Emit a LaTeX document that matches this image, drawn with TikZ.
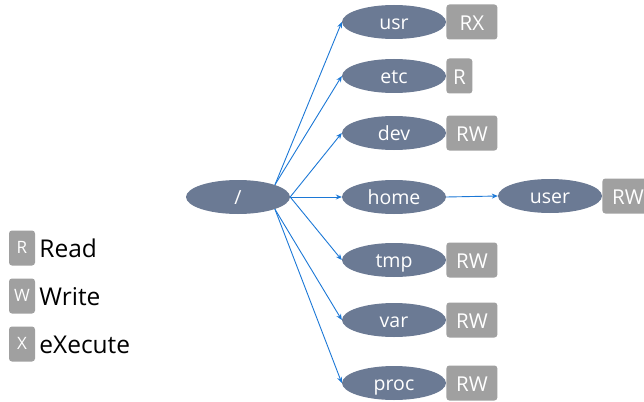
\documentclass[tikz,border=0pt]{standalone}
\usepackage{fontspec}
\setmainfont{Open Sans}
\usepackage{tikz}
\usetikzlibrary{shapes.geometric}
\usetikzlibrary{arrows.meta}
\usepackage{xcolor}
\definecolor{dirFill}{RGB}{107,122,148}
\definecolor{permFill}{RGB}{160,160,160}
\definecolor{lnkBlue}{RGB}{28,120,214}
\def\ellW{104pt}
\def\ellH{34pt}
\def\boxW{51pt}
\def\fDir{\fontsize{19.5}{22}\selectfont}
\def\fBox{\fontsize{20.5}{24}\selectfont}
\def\fKey{\fontsize{17}{20}\selectfont}
\def\fLeg{\fontsize{24.5}{28}\selectfont}
\def\lineThickness{(0.9pt)}
\tikzset{dnode/.style={ellipse,fill=dirFill,draw=none,minimum width=\ellW,minimum height=\ellH,inner sep=0,text=white,font=\fDir,text height=15pt,text depth=0pt}}
\tikzset{pbox/.style={rectangle,fill=permFill,rounded corners=3pt,minimum width=\boxW,minimum height=35pt,inner sep=0,text=white,font=\fBox,text height=17pt,text depth=0pt}}
\tikzset{kbox/.style={rectangle,fill=permFill,rounded corners=3pt,minimum width=26pt,minimum height=35pt,inner sep=0,text=white,font=\fKey,text height=11pt,text depth=0pt}}
\tikzset{lnk/.style={lnkBlue,line width=\lineThickness,-{Stealth[length=6pt,width=5pt]}}}
\begin{document}
\begin{tikzpicture}[x=1pt,y=-1pt]\useasboundingbox (0,0) rectangle (644,401);
\node[dnode] (root) at (238,197) {/};
\foreach \n/\y in {usr/22,etc/76,dev/133,home/197,tmp/260,var/320,proc/383}{\node[dnode] (\n) at (394,\y) {\n};};
\node[dnode] (user) at (550,196) {user};
% permission boxes
\foreach \n/\p in {usr/RX,dev/RW,tmp/RW,var/RW,proc/RW,user/RW}{\node[pbox,anchor=west] (\n-p) at (\n.east) {\p};};
\node[pbox,minimum width=26pt,anchor=west] (etc-p) at (etc.east) {R};
% links
\foreach \n in {usr,etc}{\draw[lnk] (root.north east) -- (\n.west);};
\foreach \n in {dev,home,tmp}{\draw[lnk] (root.east) -- (\n.west);};
\foreach \n in {var,proc}{\draw[lnk] (root.south east) -- (\n.west);};
\draw[lnk] (home.east) -- (user.west);
% legend
\foreach \k/\t/\y in {R/Read/248,W/Write/296,X/eXecute/344}{\node[kbox] (key-\k) at (22,\y) {\k};\node[anchor=west,inner xsep=4pt,font=\fLeg,text height=18pt,text depth=0pt] (txt-\k) at (key-\k.east) {\t};};
\end{tikzpicture}
\end{document}
